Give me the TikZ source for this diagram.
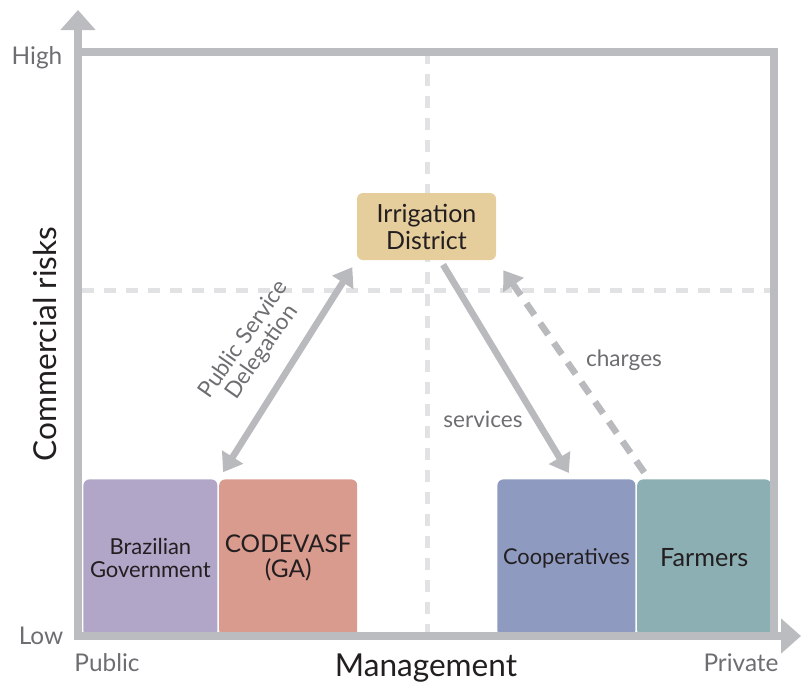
\documentclass[tikz,border=0pt]{standalone}
\usepackage{fontspec}
\setmainfont{Lato}
\usetikzlibrary{arrows.meta,positioning}
\definecolor{axisgray}{HTML}{BBBCBF}
\definecolor{dashgray}{HTML}{E1E2E4}
\definecolor{arrowgray}{HTML}{B9BABD}
\definecolor{labelgray}{HTML}{6D6E71}
\definecolor{boxtext}{HTML}{231F20}
\definecolor{irrcol}{HTML}{E6CD9C}
\definecolor{govcol}{HTML}{B1A6C8}
\definecolor{codcol}{HTML}{D99B8D}
\definecolor{coopcol}{HTML}{8E9ABF}
\definecolor{farmcol}{HTML}{8CAFB3}

\begin{document}
\begin{tikzpicture}[x=0.5pt,y=-0.5pt,
  box/.style={rounded corners=3pt,inner sep=0pt,text=boxtext,align=center},
  lowbox/.style={box,minimum height=78.5pt,anchor=north west},
  axisline/.style={axisgray,line width=4pt},
  axisarrow/.style={axisline,-{Triangle[length=10pt,width=17pt]}},
  quadline/.style={dashgray,line width=2.5pt,dash pattern=on 6pt off 5pt},
  flow/.style={arrowgray,line width=3.3pt},
  flowtip/.tip={Triangle[length=9pt,width=12pt]},
  axislabel/.style={labelgray,font=\fontsize{12.2}{14}\selectfont},
  flowlabel/.style={labelgray,font=\fontsize{11.3}{11}\selectfont}]
  \useasboundingbox (0,0) rectangle (801,681);
  % quadrant lines
  \draw[quadline] (427,52) -- (427,636);
  \draw[quadline] (82,290) -- (770,290);
  % actors
  \node[box,fill=irrcol,minimum width=69.5pt,minimum height=33.5pt,font=\fontsize{12.5}{13.5}\selectfont] (irr) at (426.5,226.5) {Irrigation\\District};
  \node[lowbox,fill=govcol,minimum width=67pt,font=\fontsize{11}{11.5}\selectfont] (gov) at (83,479) {Brazilian\\Government};
  \node[lowbox,fill=codcol,minimum width=69pt,font=\fontsize{12.2}{12.5}\selectfont,right=0.5pt of gov] (cod) {CODEVASF\\(GA)};
  \node[lowbox,fill=coopcol,minimum width=69pt,font=\fontsize{10.9}{12}\selectfont] (coop) at (497,479) {Cooperatives};
  \node[lowbox,fill=farmcol,minimum width=67pt,font=\fontsize{12.6}{14}\selectfont,right=0.5pt of coop] (farm) {Farmers};
  % frame and axes
  \draw[axisline] (78,52) -- (774,52) -- (774,636);
  \draw[axisarrow] (78,640) -- (78,10);
  \draw[axisarrow] (74,636) -- (801,636);
  \node[axislabel] (high) at (37,58) {High};
  \node[axislabel] (low) at (41,636) {Low};
  \node[axislabel] (pub) at (107,663) {Public};
  \node[axislabel] (priv) at (741,663) {Private};
  \node[text=boxtext,font=\fontsize{15.8}{17}\selectfont] (mgmt) at (426,668) {Management};
  \node[text=boxtext,font=\fontsize{15.8}{17}\selectfont,rotate=90] (risk) at (45,344) {Commercial risks};
  % relations
  \draw[flow,flowtip-flowtip,shorten <=4pt,shorten >=4pt] (irr.south west) -- (cod.north west);
  \draw[flow,-flowtip,shorten <=2.5pt,shorten >=3.5pt] ([xshift=7pt]irr.south) -- ([xshift=3pt]coop.north);
  \draw[flow,-flowtip,dash pattern=on 7pt off 5pt,shorten <=4pt,shorten >=6pt] ([xshift=6pt]farm.north west) -- (irr.south east);
  \node[flowlabel,align=center,rotate=55] (psd) at (253,346) {Public Service\\Delegation};
  \node[flowlabel] (serv) at (483,419) {services};
  \node[flowlabel] (chg) at (624,360) {charges};
\end{tikzpicture}
\end{document}
